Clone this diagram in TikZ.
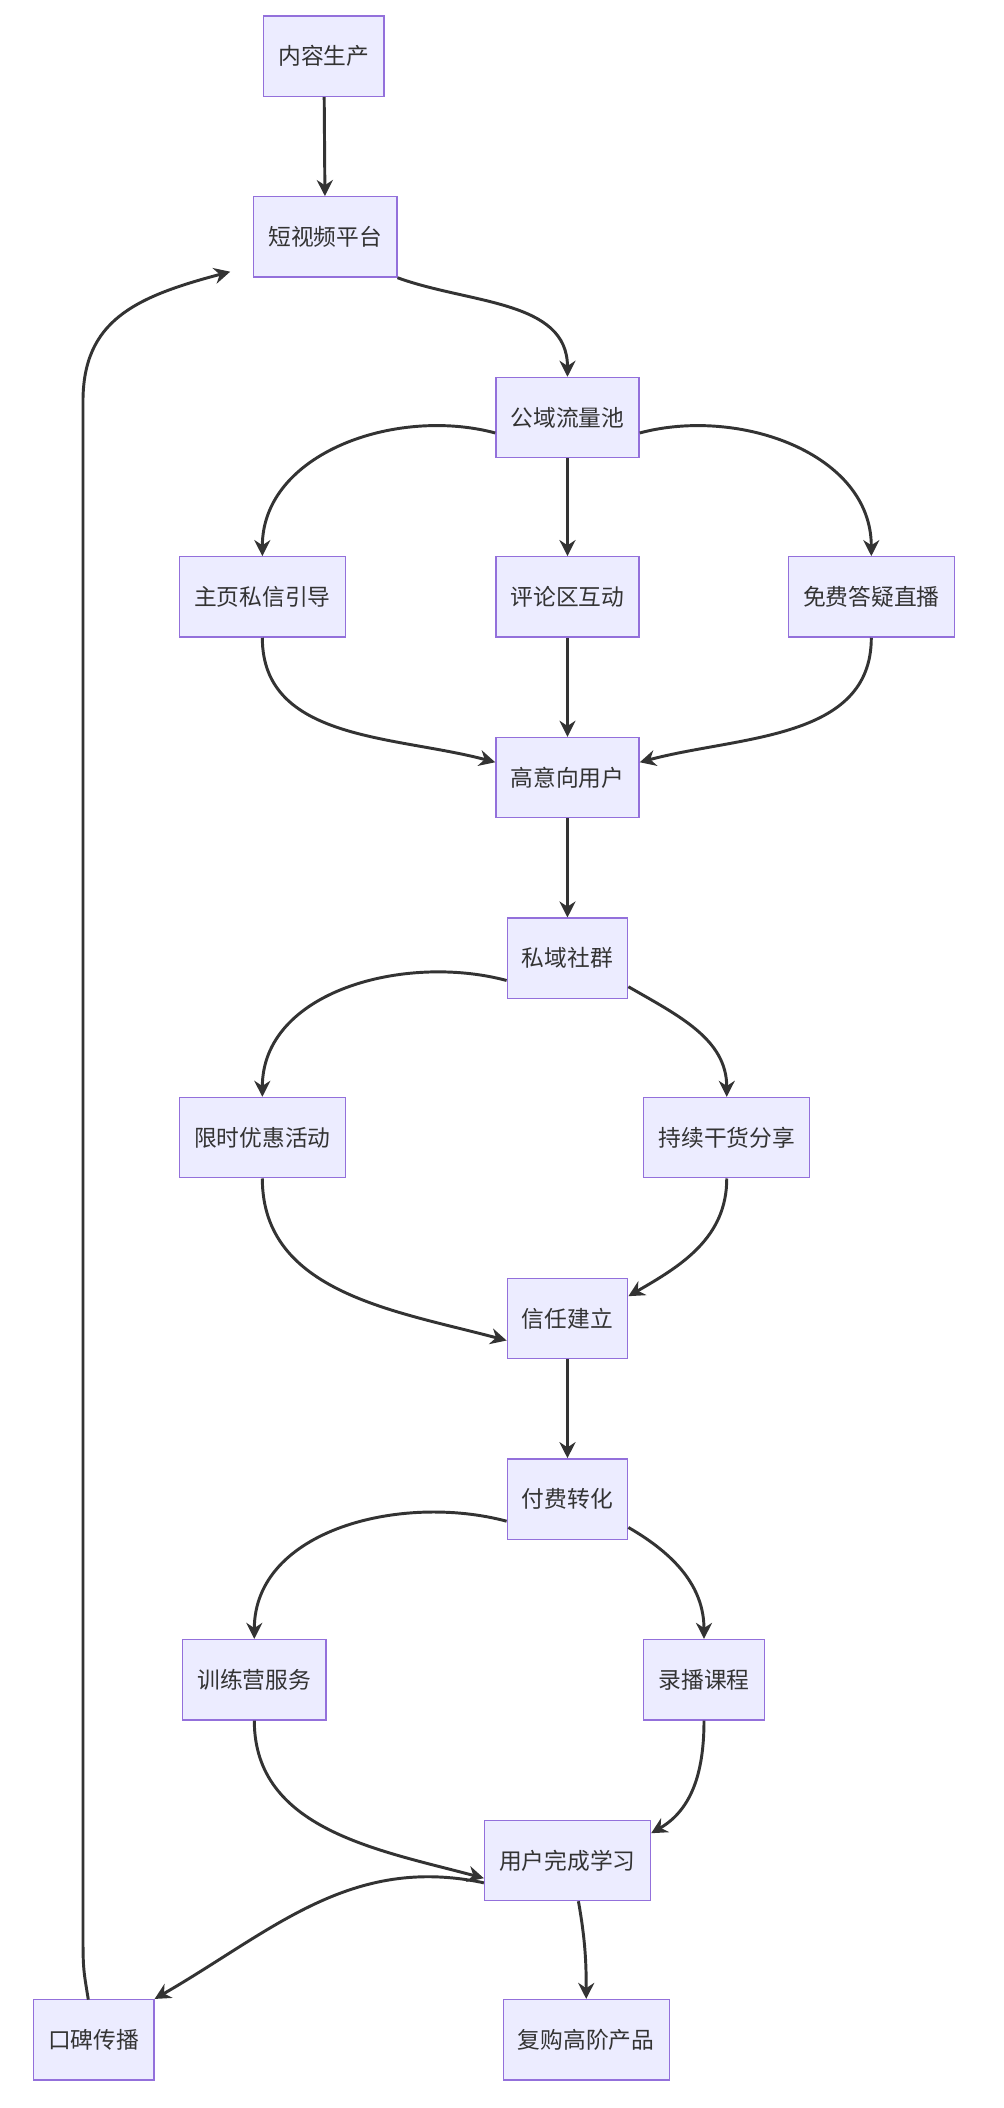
\documentclass[tikz,border=0pt]{standalone}
\usepackage{fontspec}
\setmainfont{Noto Sans CJK SC}
\usetikzlibrary{arrows.meta}
\definecolor{boxfill}{HTML}{ECECFF}
\definecolor{boxline}{HTML}{9370DB}
\definecolor{edge}{HTML}{333333}
\tikzset{
  box/.style={draw=boxline,fill=boxfill,line width=1pt,minimum height=60pt,inner xsep=11pt,font=\fontsize{17pt}{20pt}\selectfont,text=edge},
  link/.style={draw=edge,line width=2.2pt,-{Stealth[length=12pt,width=12pt]}}
}
\begin{document}
\begin{tikzpicture}[x=1pt,y=-1pt]
  \useasboundingbox (0,0) rectangle (750,1575);
  % nodes
  \node[box] (make) at (242,42) {内容生产};
  \node[box] (video) at (243,177) {短视频平台};
  \node[box] (pool) at (424,312) {公域流量池};
  \node[box] (home) at (196,446) {主页私信引导};
  \node[box] (comment) at (424,446) {评论区互动};
  \node[box] (live) at (651,446) {免费答疑直播};
  \node[box] (intent) at (424,581) {高意向用户};
  \node[box] (group) at (424,716) {私域社群};
  \node[box] (sale) at (196,850) {限时优惠活动};
  \node[box] (share) at (543,850) {持续干货分享};
  \node[box] (trust) at (424,985) {信任建立};
  \node[box] (pay) at (424,1120) {付费转化};
  \node[box] (camp) at (190,1255) {训练营服务};
  \node[box] (record) at (526,1255) {录播课程};
  \node[box] (learn) at (424,1390) {用户完成学习};
  \node[box] (word) at (70,1524) {口碑传播};
  \node[box] (rebuy) at (438,1524) {复购高阶产品};
  \coordinate (wordtop) at (66,1494);
  \coordinate (low) at (62,1440);
  \coordinate (up) at (62,300);
  \coordinate (c1) at (62,240);
  \coordinate (c2) at (100,222);
  \coordinate (videoin) at (172,203);
  % edges
  \draw[link] (make) -- (video);
  \draw[link] (video.south east) to[out=-20,in=90] (pool.north);
  \draw[link] (pool.192) to[out=165,in=90] (home.north);
  \draw[link] (pool) -- (comment);
  \draw[link] (pool.348) to[out=15,in=90] (live.north);
  \draw[link] (home.south) to[out=-90,in=165] (intent.168);
  \draw[link] (comment) -- (intent);
  \draw[link] (live.south) to[out=-90,in=15] (intent.12);
  \draw[link] (intent) -- (group);
  \draw[link] (group.200) to[out=165,in=90] (sale.north);
  \draw[link] (group.335) to[out=-30,in=90] (share.north);
  \draw[link] (sale.south) to[out=-90,in=165] (trust.200);
  \draw[link] (share.south) to[out=-90,in=30] (trust.20);
  \draw[link] (trust) -- (pay);
  \draw[link] (pay.200) to[out=165,in=90] (camp.north);
  \draw[link] (pay.335) to[out=-30,in=90] (record.north);
  \draw[link] (camp.south) to[out=-90,in=165] (learn.192);
  \draw[link] (record.south) to[out=-90,in=30] (learn.18);
  \draw[link] (learn.195) to[out=168,in=30] (word.north east);
  \draw[link] (learn.285) to[out=-80,in=90] (rebuy.north);
  \draw[link] (wordtop) .. controls (62,1470) .. (low) -- (up) .. controls (c1) and (c2) .. (videoin);
\end{tikzpicture}
\end{document}
